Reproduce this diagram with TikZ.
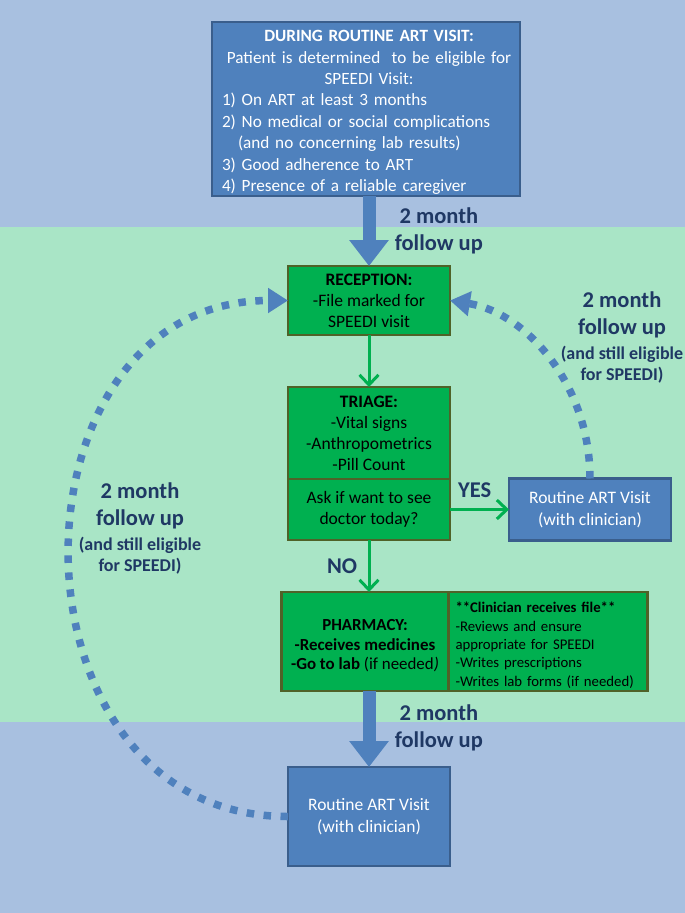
\documentclass[tikz,border=0pt]{standalone}
\usepackage{fontspec}
\setmainfont{Carlito}
\usetikzlibrary{arrows.meta, positioning}
\setlength{\parindent}{0pt}
\definecolor{bandblue}{HTML}{A8C0E0}
\definecolor{bandgreen}{HTML}{A9E5C6}
\definecolor{boxblue}{HTML}{4F81BD}
\definecolor{boxblueline}{HTML}{3A5E8C}
\definecolor{boxgreen}{HTML}{00B050}
\definecolor{boxgreenline}{HTML}{4F6228}
\definecolor{labnavy}{HTML}{1F3864}
\newcommand{\SubLab}{\bfseries\fontsize{18}{21}\selectfont}

\begin{document}
\begin{tikzpicture}[
      x = 1pt, y = 1pt,
      >=Latex,
      bluebox/.style={
        draw = boxblueline,
        line width = 2.5pt,
        fill = boxblue,
        text = white,
        align = center,
        inner sep = 0pt,
        outer sep = 0pt,
        font = \fontsize{17.2}{21.4}\selectfont,
      },
      greenbox/.style={
        draw = boxgreenline,
        line width = 2.5pt,
        fill = boxgreen,
        text = black,
        align = center,
        inner sep = 0pt,
        outer sep = 0pt,
        font = \fontsize{17.5}{21}\selectfont,
      },
      bigarrow/.style={-{Triangle[width=38pt,length=26pt]}, line width=13pt, boxblue},
      greenarrow/.style={-{Straight Barb[width=19pt,length=10pt]}, line width=3pt, boxgreen},
      dotloop/.style={-{Triangle[width=24pt,length=20pt]}, line width=7.5pt, boxblue,
        dash pattern=on 7.5pt off 9.5pt},
      lab/.style={text=labnavy, align=center, font=\bfseries\fontsize{22.5}{27}\selectfont},
    ]
    \useasboundingbox (0,0) rectangle (685,-913);
    % background bands
    \fill[bandblue] (0,0) rectangle (685,-227);
    \fill[bandgreen] (0,-227) rectangle (685,-722);
    \fill[bandblue] (0,-722) rectangle (685,-913);

    \node[bluebox, minimum width=308pt, minimum height=174pt, text width=300pt, align=left] (elig) at (366,-109)
      {{\centering\advance\leftskip 6pt
        \rule{0pt}{18pt}\textbf{DURING ROUTINE ART VISIT:}\\Patient is determined\ \ to be eligible for\\SPEEDI Visit:\par}
       \leftskip=6pt
       1) On ART at least 3 months\\
       2) No medical or social complications\\
       \hspace*{16pt}(and no concerning lab results)\\
       3) Good adherence to ART\\
       4) Presence of a reliable caregiver\par};
    \node[greenbox, minimum width=162pt, minimum height=69pt, below=70pt of elig, xshift=3pt] (recep)
      {\textbf{RECEPTION:}\\-File marked for\\SPEEDI visit};
    \node[greenbox, minimum width=162pt, minimum height=92pt, below=52pt of recep] (triage)
      {\textbf{TRIAGE:}\\-Vital signs\\-Anthropometrics\\-Pill Count};
    \node[greenbox, minimum width=162pt, minimum height=61pt, below=0pt of triage] (ask)
      {Ask if want to see\\doctor today?};
    \node[bluebox, font=\fontsize{17.5}{21.5}\selectfont, minimum width=162pt, minimum height=62pt,
      right=59pt of ask] (visit1)
      {Routine ART Visit\\(with clinician)};
    \node[greenbox, minimum width=167pt, minimum height=99pt, below=52pt of ask, xshift=-4pt,
      font=\bfseries\fontsize{16.9}{19.5}\selectfont] (pharm)
      {\rule{0pt}{20pt}PHARMACY:\\-Receives medicines\\-Go to lab \mdseries(if needed\textit{)}};
    \node[greenbox, minimum width=199pt, minimum height=99pt, right=0pt of pharm, text width=185pt, align=left,
      font=\fontsize{14.75}{18.3}\selectfont] (clin)
      {\rule{0pt}{18pt}\textbf{**Clinician receives file**}\\-Reviews and ensure\\appropriate for SPEEDI\\-Writes prescriptions\\-Writes lab forms (if needed)};
    \node[bluebox, font=\fontsize{17.5}{21.5}\selectfont, minimum width=162pt, minimum height=99pt,
      below=76pt of pharm, xshift=4pt] (visit2)
      {Routine ART Visit\\(with clinician)};

    \draw[bigarrow] (recep.north |- elig.south) -- (recep.north)
      node[lab, midway, right=16pt] {2 month\\follow up};
    \draw[greenarrow] (recep.south) -- (triage.north);
    \draw[greenarrow] (ask.east) -- (visit1.west) node[lab, pos=0.42, above=7pt] {YES};
    \draw[greenarrow] (ask.south) -- (ask.south |- pharm.north) node[lab, midway, left=7pt] {NO};
    \draw[bigarrow] (visit2.north |- pharm.south) -- (visit2.north)
      node[lab, midway, right=16pt, yshift=1pt] {2 month\\follow up};

    \draw[dotloop] (visit2.west) .. controls +(-290,0) and +(-290,0) .. (recep.west);
    \draw[dotloop] (visit1.north) .. controls +(0,95) and +(75,-12) .. (recep.east);

    \node[lab] (rightlab) at (622,-337)
      {2 month\\follow up\\[-2pt]{\SubLab (and still eligible}\\[-6pt]{\SubLab for SPEEDI)}};
    \node[lab] (leftlab) at (140,-528)
      {2 month\\follow up\\[-2pt]{\SubLab (and still eligible}\\[-6pt]{\SubLab for SPEEDI)}};
  \end{tikzpicture}
\end{document}
